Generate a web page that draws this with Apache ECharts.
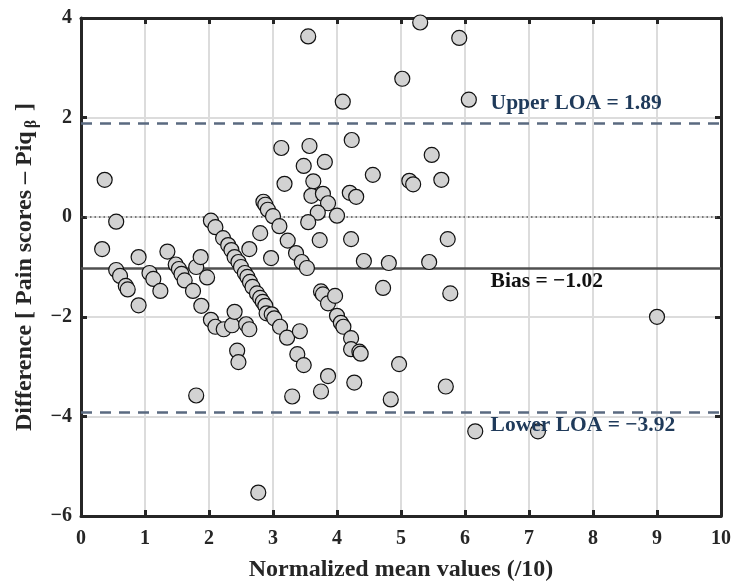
<!DOCTYPE html>
<html>
<head>
<meta charset="UTF-8">
<title>Bland-Altman</title>
<script src="https://cdn.jsdelivr.net/npm/echarts@6/dist/echarts.min.js"></script>
<style>
  html, body { margin: 0; padding: 0; background: #fff; }
  #chart { width: 738px; height: 585px; }
</style>
</head>
<body>
<div id="chart"></div>
<script>
// mean of the two scores (/10)
const meanValues = [
  0.33, 0.37, 0.55, 0.55, 0.61, 0.70, 0.73, 0.90, 0.90, 1.07, 1.13, 1.24, 1.35, 1.48, 1.53, 1.57, 1.62, 1.75, 1.80, 1.87, 1.88, 1.97, 1.80,
  2.03, 2.10, 2.22, 2.30, 2.35, 2.40, 2.46, 2.50, 2.56, 2.60, 2.64, 2.68, 2.75, 2.80, 2.84, 2.88, 2.90, 2.98, 3.02, 3.11, 3.22,
  2.03, 2.10, 2.23, 2.36, 2.40, 2.58, 2.63, 2.44, 2.46, 2.77,
  2.63, 2.80, 2.97, 3.13, 3.18,
  2.85, 2.88, 2.92, 3.00, 3.10, 3.23, 3.36, 3.45, 3.53,
  3.42, 3.38, 3.48, 3.30, 3.75, 3.86, 4.27,
  3.75, 3.78, 3.86, 3.97, 4.00, 4.06, 4.10, 4.22, 4.22, 4.35, 4.37,
  3.55, 4.09, 3.48, 3.57, 3.81, 4.23, 3.63, 3.60, 3.78, 3.86, 3.70, 3.55, 4.00, 3.73, 4.20, 4.30, 4.56, 4.22, 4.42, 4.81, 4.72,
  5.02, 5.30, 5.91, 6.06, 5.13, 5.19, 5.63, 5.48, 5.73, 5.44, 5.77, 4.84, 4.97, 5.70, 6.16, 7.14, 9.00
];
// difference (Pain scores - Piq_beta)
const differences = [
  -0.64, 0.75, -0.09, -1.06, -1.18, -1.38, -1.45, -0.80, -1.77, -1.12, -1.24, -1.48, -0.69, -0.95, -1.04, -1.14, -1.27, -1.48, -1.00, -0.80, -1.78, -1.21, -3.58,
  -0.07, -0.20, -0.42, -0.56, -0.66, -0.80, -0.90, -1.00, -1.12, -1.20, -1.30, -1.40, -1.53, -1.62, -1.70, -1.78, -1.93, -1.95, -2.03, -2.20, -2.42,
  -2.06, -2.20, -2.25, -2.17, -1.90, -2.15, -2.25, -2.68, -2.91, -5.53,
  -0.64, -0.32, -0.82, 1.39, 0.67,
  0.31, 0.25, 0.15, 0.02, -0.18, -0.47, -0.72, -0.90, -1.02,
  -2.29, -2.75, -2.97, -3.60, -3.50, -3.19, -3.32,
  -1.49, -1.55, -1.73, -1.58, -1.98, -2.12, -2.20, -2.43, -2.65, -2.70, -2.74,
  3.63, 2.32, 1.03, 1.43, 1.11, 1.55, 0.72, 0.43, 0.47, 0.28, 0.09, -0.10, 0.03, -0.46, 0.49, 0.41, 0.85, -0.44, -0.88, -0.92, -1.42,
  2.78, 3.91, 3.60, 2.36, 0.73, 0.66, 0.75, 1.25, -0.44, -0.90, -1.53, -3.66, -2.95, -3.40, -4.30, -4.30, -2.00
];
const upperLOA = 1.89;
const bias = -1.02;
const lowerLOA = -3.92;
const xTicks = [0, 10, 1];
const yTicks = [-6, 4, 2];

const serif = 'Liberation Serif';
const points = meanValues.map((m, i) => [m, differences[i]]);

const chart = echarts.init(document.getElementById('chart'));

const tickStyle = { show: true, inside: true, length: 6, lineStyle: { color: '#262626', width: 3 } };
const lineStyle = { show: true, onZero: false, lineStyle: { color: '#262626', width: 3 } };

chart.setOption({
  animation: false,
  grid: { left: 81, right: 17, top: 18, bottom: 69, containLabel: false, outerBoundsMode: 'none' },
  xAxis: [{
    type: 'value', min: xTicks[0], max: xTicks[1], interval: xTicks[2],
    axisLine: lineStyle, axisTick: tickStyle,
    axisLabel: { color: '#262626', fontFamily: serif, fontWeight: 'bold', fontSize: 20, margin: 13 },
    splitLine: { show: true, lineStyle: { color: '#dcdcdc', width: 2 } },
    name: 'Normalized mean values (/10)', nameLocation: 'middle', nameGap: 42,
    nameTextStyle: { color: '#262626', fontFamily: serif, fontWeight: 'bold', fontSize: 24 }
  }, {
    type: 'value', position: 'top', min: xTicks[0], max: xTicks[1], interval: xTicks[2],
    axisLine: lineStyle, axisTick: tickStyle, axisLabel: { show: false }, splitLine: { show: false }
  }],
  yAxis: [{
    type: 'value', min: yTicks[0], max: yTicks[1], interval: yTicks[2],
    axisLine: lineStyle, axisTick: tickStyle,
    axisLabel: {
      color: '#262626', fontFamily: serif, fontWeight: 'bold', fontSize: 20, margin: 9,
      formatter: v => String(v).replace('-', '\u2212')
    },
    splitLine: { show: true, lineStyle: { color: '#dcdcdc', width: 2 } },
    name: '{t|Difference [ Pain scores \u2013 Piq}{s|\u03b2}{t| ]}',
    nameLocation: 'middle', nameGap: 40,
    nameTextStyle: {
      color: '#262626', fontFamily: serif, fontWeight: 'bold', fontSize: 24,
      rich: {
        t: { fontFamily: serif, fontWeight: 'bold', fontSize: 24, color: '#262626', lineHeight: 30, verticalAlign: 'middle' },
        s: { fontFamily: serif, fontWeight: 'bold', fontSize: 16, color: '#262626', lineHeight: 14, padding: [0, 3, 0, 3], verticalAlign: 'bottom' }
      }
    }
  }, {
    type: 'value', position: 'right', min: yTicks[0], max: yTicks[1], interval: yTicks[2],
    axisLine: lineStyle, axisTick: tickStyle, axisLabel: { show: false }, splitLine: { show: false }
  }],
  series: [{
    type: 'scatter',
    data: points,
    symbol: 'circle',
    symbolSize: 15,
    z: 3,
    itemStyle: { color: '#d2d2d2', borderColor: '#111', borderWidth: 1.2, opacity: 1 },
    markLine: {
      silent: true, symbol: 'none', z: 1,
      label: { show: false },
      data: [
        { yAxis: 0, lineStyle: { color: '#555', width: 1.6, type: [1.5, 3] } },
        { yAxis: upperLOA, lineStyle: { color: '#5a6a80', width: 2.6, type: [11, 8] } },
        { yAxis: lowerLOA, lineStyle: { color: '#5a6a80', width: 2.6, type: [11, 8] } },
        { yAxis: bias, lineStyle: { color: '#505050', width: 2.6, type: 'solid' } }
      ]
    },
    markPoint: {
      silent: true, symbol: 'circle', symbolSize: 0, z: 5,
      label: { show: true, position: 'right', distance: 0, fontFamily: serif, fontWeight: 'bold', fontSize: 21.5 },
      data: [
        { coord: [6.4, upperLOA], label: { formatter: 'Upper LOA = ' + upperLOA.toFixed(2), color: '#1f3a5a', offset: [0, -20] } },
        { coord: [6.4, bias], label: { formatter: 'Bias = \u2212' + Math.abs(bias).toFixed(2), color: '#111', offset: [0, 13] } },
        { coord: [6.4, lowerLOA], label: { formatter: 'Lower LOA = \u2212' + Math.abs(lowerLOA).toFixed(2), color: '#1f3a5a', offset: [0, 13] } }
      ]
    }
  }]
});
</script>
</body>
</html>
